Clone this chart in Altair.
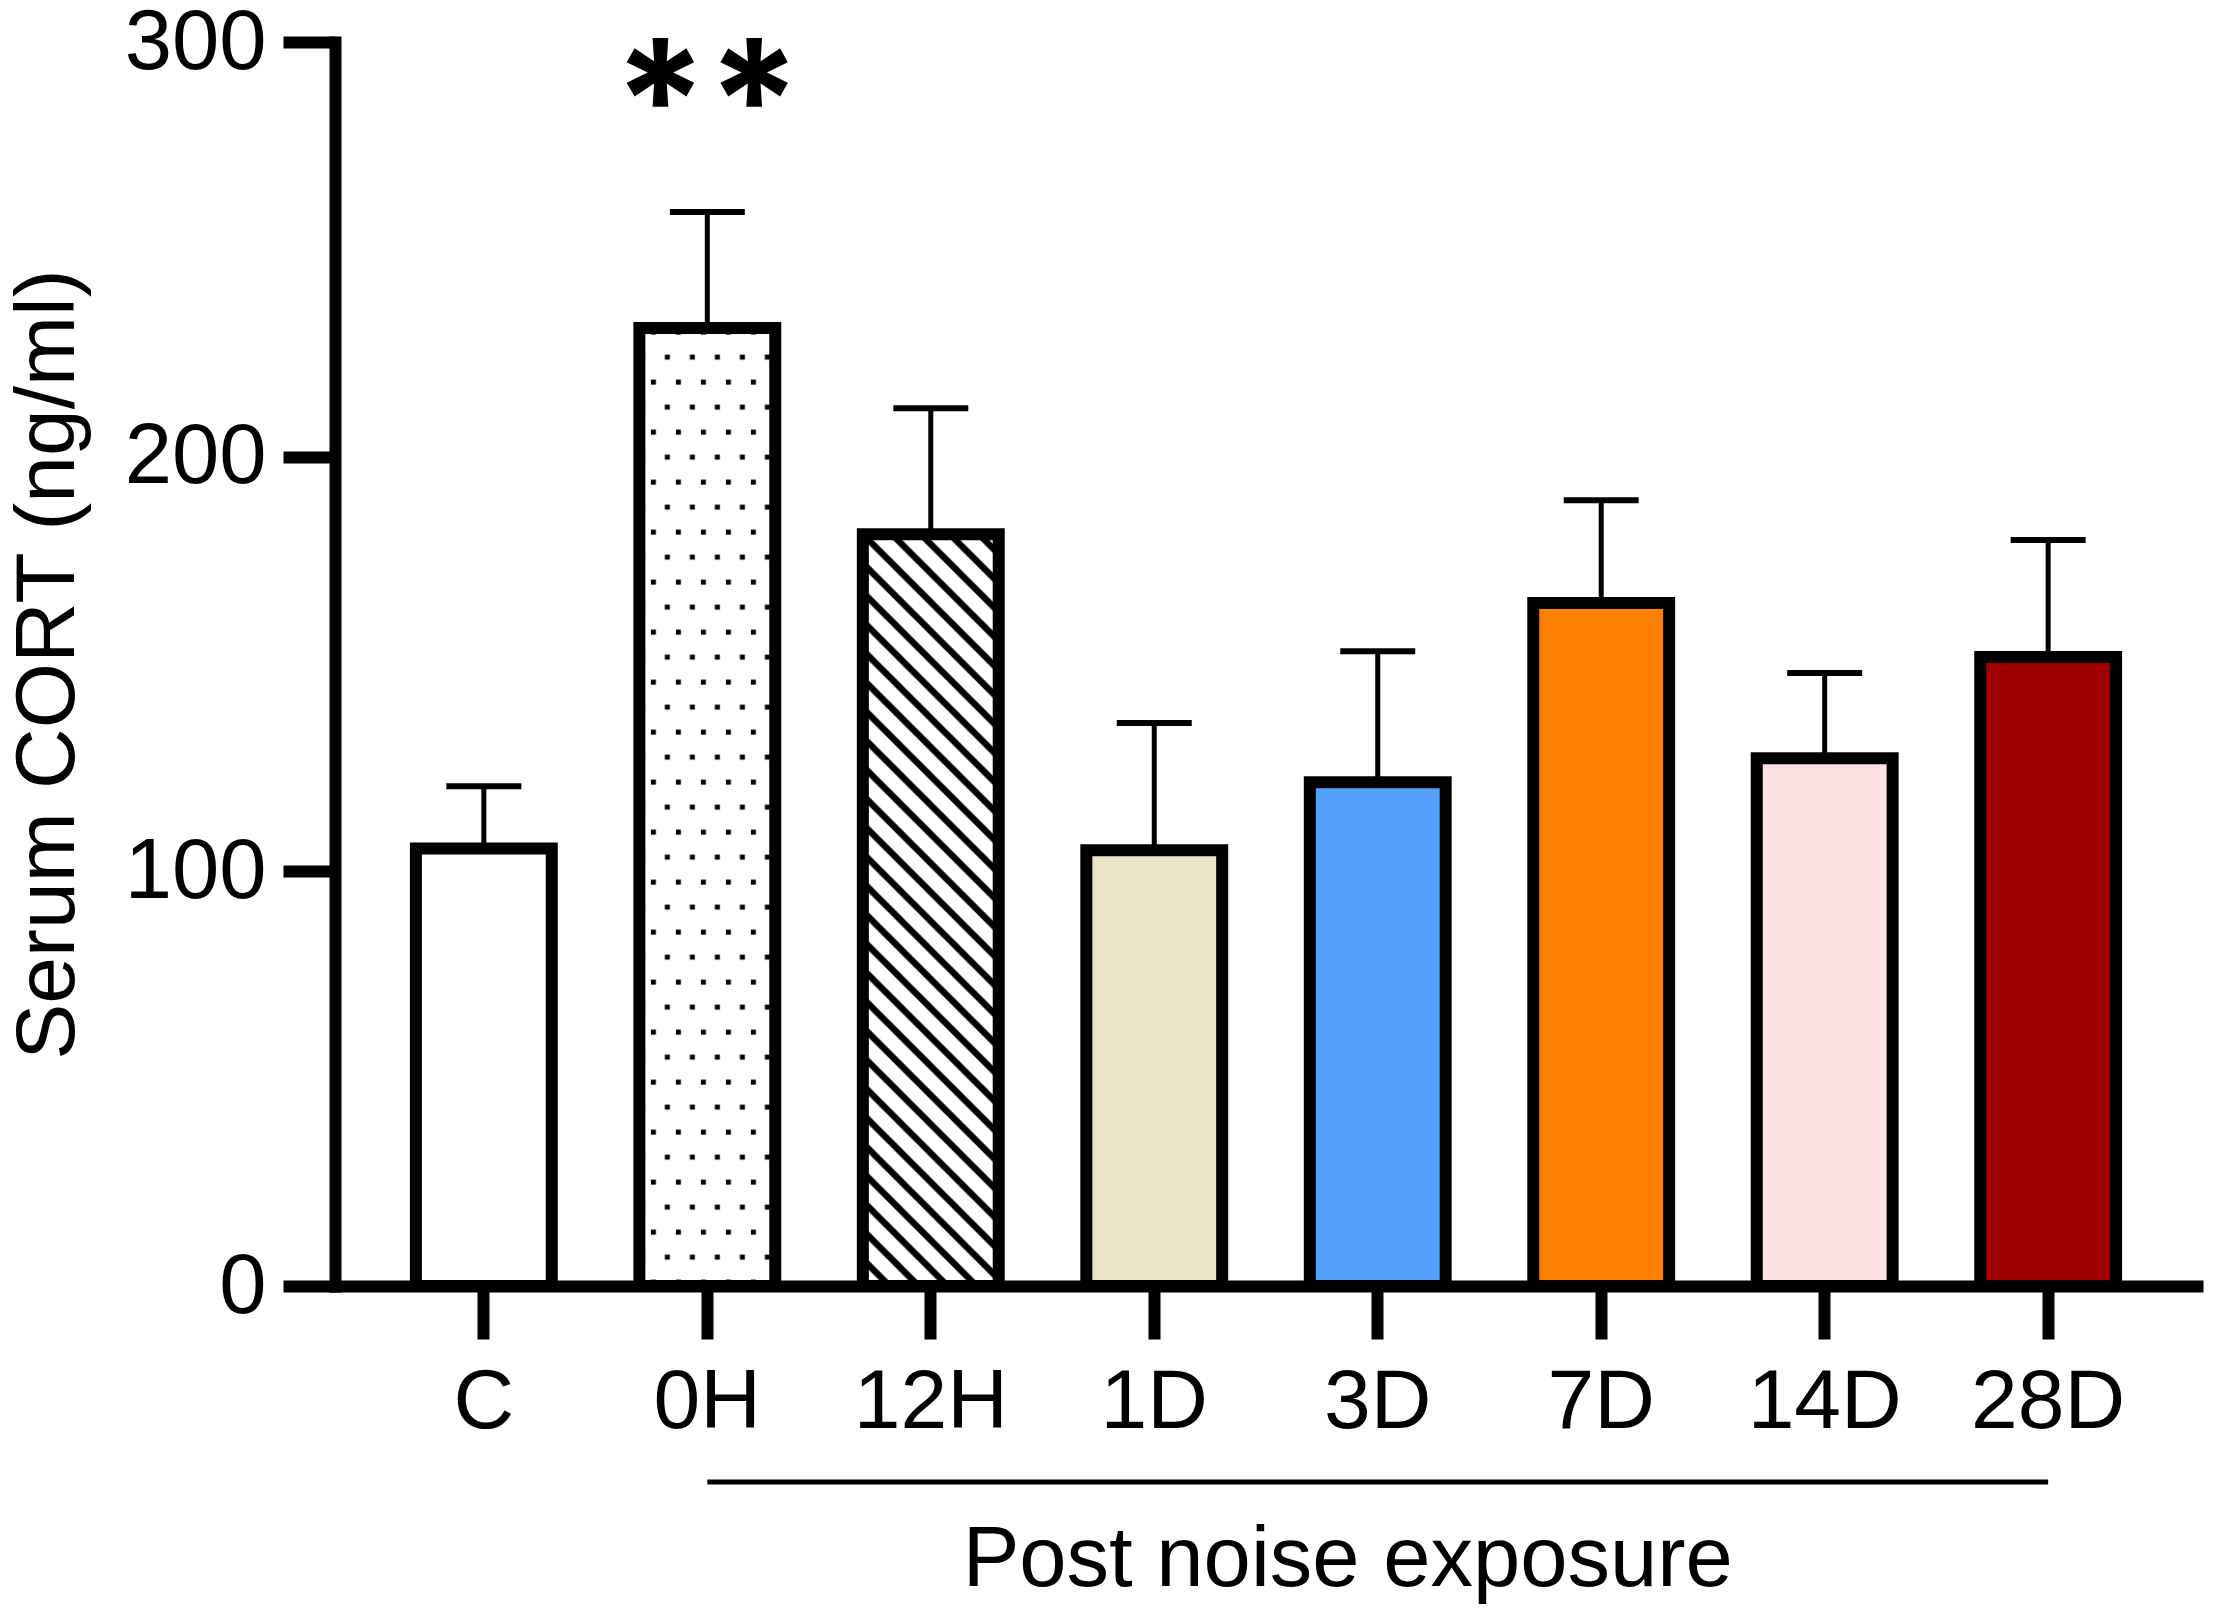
import base64
import altair as alt
import pandas as pd

# ---- data ----
groups = ["C", "0H", "12H", "1D", "3D", "7D", "14D", "28D"]
means = [105.5, 231.0, 181.3, 105.1, 121.5, 164.7, 127.3, 151.7]
upper = [120.5, 259.0, 211.7, 135.8, 153.1, 189.5, 147.8, 179.9]
sig = ["", "**", "", "", "", "", "", ""]
fills = ["#ffffff", "#ffffff", "#ffffff", "#ece4c9", "#55a0fa", "#ff8000", "#fde0e2", "#a00000"]
y_ticks = [0, 100, 200, 300]

df = pd.DataFrame({"group": groups, "mean": means, "upper": upper, "sig": sig})

FONT = "Liberation Sans"


def svg_uri(svg):
    return "data:image/svg+xml;base64," + base64.b64encode(svg.encode()).decode()


DOTS = svg_uri(
    '<svg xmlns="http://www.w3.org/2000/svg" width="100%" height="100%">'
    '<defs><pattern id="p" x="0" y="0" width="25" height="50" patternUnits="userSpaceOnUse">'
    '<rect x="0.5" y="26.5" width="5" height="5" fill="#000"/>'
    '<rect x="11.5" y="1.5" width="5" height="5" fill="#000"/>'
    '</pattern></defs><rect x="0" y="0" width="100%" height="100%" fill="url(#p)"/></svg>'
)
HATCH = svg_uri(
    '<svg xmlns="http://www.w3.org/2000/svg" width="100%" height="100%">'
    '<defs><pattern id="h" x="0" y="0" width="29" height="29" patternUnits="userSpaceOnUse">'
    '<path d="M-5,-5 L34,34 M-5,24 L5,34 M24,-5 L34,5" stroke="#000" stroke-width="6.5"/>'
    '</pattern></defs><rect x="0" y="0" width="100%" height="100%" fill="url(#h)"/></svg>'
)

x_enc = alt.X(
    "group:N",
    sort=groups,
    scale=alt.Scale(domain=groups, paddingInner=0.392, paddingOuter=0.362),
    axis=alt.Axis(
        title=None,
        labelAngle=0,
        labelFont=FONT,
        labelFontSize=84,
        labelColor="black",
        labelPadding=22,
        tickSize=53,
        tickWidth=12,
        tickColor="black",
        domainWidth=12,
        domainColor="black",
        domainCap="square",
        zindex=1,
    ),
)
y_scale = alt.Scale(domain=[0, 300], nice=False)
y_enc = alt.Y(
    "mean:Q",
    scale=y_scale,
    axis=alt.Axis(
        values=y_ticks,
        title="Serum CORT (ng/ml)",
        titleFont=FONT,
        titleFontSize=84,
        titleFontWeight="normal",
        titleColor="black",
        titlePadding=44,
        labelFont=FONT,
        labelFontSize=85,
        labelColor="black",
        labelPadding=17,
        tickSize=52,
        tickWidth=12,
        tickColor="black",
        domainWidth=12,
        domainColor="black",
        domainCap="square",
        grid=False,
        zindex=1,
    ),
)

base = alt.Chart(df)

fill_bars = base.mark_bar(strokeWidth=0).encode(
    x=x_enc,
    y=y_enc,
    color=alt.Color("group:N", scale=alt.Scale(domain=groups, range=fills), legend=None),
)

dots = base.transform_filter(alt.datum.group == "0H").mark_image(aspect=False).encode(
    x=alt.X("group:N", sort=groups),
    y=alt.Y("mean:Q", scale=y_scale),
    y2=alt.datum(0),
    url=alt.value(DOTS),
)
hatch = base.transform_filter(alt.datum.group == "12H").mark_image(aspect=False).encode(
    x=alt.X("group:N", sort=groups),
    y=alt.Y("mean:Q", scale=y_scale),
    y2=alt.datum(0),
    url=alt.value(HATCH),
)

outline = base.mark_bar(fillOpacity=0, stroke="black", strokeWidth=12).encode(
    x=alt.X("group:N", sort=groups),
    y=alt.Y("mean:Q", scale=y_scale),
)

err = base.mark_rule(color="black", strokeWidth=5, opacity=1).encode(
    x=alt.X("group:N", sort=groups),
    y=alt.Y("mean:Q", scale=y_scale),
    y2="upper:Q",
)
caps = base.mark_tick(color="black", size=75, thickness=6, opacity=1).encode(
    x=alt.X("group:N", sort=groups),
    y=alt.Y("upper:Q", scale=y_scale),
)

stars = base.transform_filter(alt.datum.sig != "").mark_text(
    font="Inter", fontSize=168, fontWeight="bold", color="black",
    baseline="middle", align="center", dy=-102,
).encode(
    x=alt.X("group:N", sort=groups),
    y=alt.Y("upper:Q", scale=y_scale),
    text="sig:N",
)

one = pd.DataFrame({"k": [0]})
bracket = alt.Chart(one).mark_rule(color="black", strokeWidth=5).encode(
    x=alt.datum("0H"),
    x2=alt.datum("28D"),
    y=alt.value(1440),
)
post = alt.Chart(one).mark_text(
    text="Post noise exposure", font=FONT, fontSize=85, color="black",
    align="center", baseline="alphabetic", dx=-30,
).encode(
    x=alt.datum("3D"),
    y=alt.value(1544),
)

chart = alt.layer(
    fill_bars, dots, hatch, outline, err, caps, stars, bracket, post
).properties(
    width=1862,
    height=1244,
    autosize=alt.AutoSizeParams(type="none"),
    padding={"left": 327, "top": 34, "right": 12, "bottom": 320},
    background="white",
).configure_view(stroke=None)

chart.save("out.html", embed_options={"renderer": "svg", "actions": False})
